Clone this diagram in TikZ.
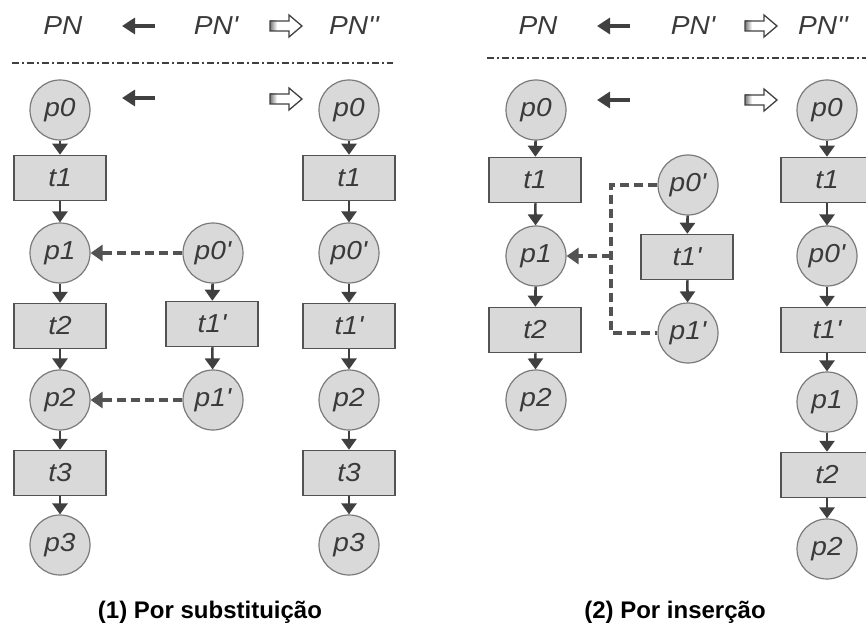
\documentclass[tikz,border=0pt]{standalone}
\usepackage{fontspec}
\newfontfamily\lab{Liberation Sans}[FakeStretch=1.08]
\newfontfamily\capf{Liberation Sans}[FakeStretch=1.0]
\usetikzlibrary{arrows.meta,calc}
\definecolor{fillg}{HTML}{D9D9D9}
\definecolor{edgeg}{HTML}{7A7A7A}
\definecolor{darkg}{HTML}{404040}
\definecolor{txtg}{HTML}{3A3A3A}
\tikzset{
 place/.style={circle, draw=edgeg, fill=fillg, line width=1.2pt, minimum size=60pt, inner sep=0pt,
   font=\lab\itshape\fontsize{26}{26}\selectfont, text=txtg},
 trans/.style={rectangle, draw=darkg!90, fill=fillg, line width=1.5pt, minimum width=92pt,
   minimum height=45pt, inner sep=0pt, font=\lab\itshape\fontsize{26}{26}\selectfont, text=txtg},
 flow/.style={draw=darkg, line width=2.6pt, -{Triangle[length=11pt,width=15pt]}},
 dflow/.style={draw=darkg!90, line width=3.2pt, dash pattern=on 9pt off 5pt},
 dtip/.style={-{Triangle[length=12pt,width=16pt]}},
 hdr/.style={font=\lab\itshape\fontsize{26}{26}\selectfont, text=txtg},
 sepline/.style={draw=darkg, line width=2.2pt, dash pattern=on 7pt off 3pt on 2pt off 3pt},
 fullarrow/.style={draw=darkg, line width=4.5pt, -{Triangle[length=13pt,width=16pt]}},
 captext/.style={font=\capf\bfseries\fontsize{24}{24}\selectfont, text=black},
 hollow/.pic={
   \shade[left color=darkg!70, right color=white] (0,-5) rectangle (7,5);
   \draw[darkg, line width=1.3pt, line join=miter]
     (0,-5) -- (19,-5) -- (19,-11) -- (32,0) -- (19,11) -- (19,5) -- (0,5) -- cycle;
 }
}
\begin{document}
\begin{tikzpicture}[x=1pt,y=-1pt]
\useasboundingbox (0,0) rectangle (866,628);

% ---------------- Panel 1: substitution ----------------
\node[hdr] (h1a) at (63,26) {PN};
\node[hdr] (h1b) at (216,26) {PN'};
\node[hdr] (h1c) at (354,26) {PN''};
\coordinate (a1s) at (155,26); \coordinate (a1e) at (122,26);
\draw[fullarrow] (a1s) -- (a1e);
\pic at (270,26) {hollow};
\coordinate (s1a) at (12,63); \coordinate (s1b) at (393,63);
\draw[sepline] (s1a) -- (s1b);
\coordinate (a2s) at (155,98); \coordinate (a2e) at (122,98);
\draw[fullarrow] (a2s) -- (a2e);
\pic at (270,99) {hollow};

% left column
\node[place] (Lp0) at (60,110) {p0};
\node[trans] (Lt1) at (60,178) {t1};
\node[place] (Lp1) at (60,253) {p1};
\node[trans] (Lt2) at (60,326) {t2};
\node[place] (Lp2) at (60,400) {p2};
\node[trans] (Lt3) at (60,473) {t3};
\node[place] (Lp3) at (60,545) {p3};
\foreach \a/\b in {Lp0/Lt1,Lt1/Lp1,Lp1/Lt2,Lt2/Lp2,Lp2/Lt3,Lt3/Lp3} \draw[flow] (\a) -- (\b);
% middle column
\node[place] (Mp0) at (213,253) {p0'};
\node[trans] (Mt1) at (212,324) {t1'};
\node[place] (Mp1) at (213,400) {p1'};
\draw[flow] (Mp0) -- (Mt1);
\draw[flow] (Mt1) -- (Mp1);
\draw[dflow] (Mp0) -- ($(Lp1.east)+(10,0)$);
\draw[dtip,draw=darkg!90,line width=3.2pt] ($(Lp1.east)+(12,0)$) coordinate (d1) -- (Lp1.east);
\draw[dflow] (Mp1) -- ($(Lp2.east)+(10,0)$);
\draw[dtip,draw=darkg!90,line width=3.2pt] ($(Lp2.east)+(12,0)$) coordinate (d2) -- (Lp2.east);
% right column
\node[place] (Rp0) at (349,110) {p0};
\node[trans] (Rt1) at (349,178) {t1};
\node[place] (Rp1) at (349,253) {p0'};
\node[trans] (Rt2) at (349,326) {t1'};
\node[place] (Rp2) at (349,400) {p2};
\node[trans] (Rt3) at (349,473) {t3};
\node[place] (Rp3) at (349,545) {p3};
\foreach \a/\b in {Rp0/Rt1,Rt1/Rp1,Rp1/Rt2,Rt2/Rp2,Rp2/Rt3,Rt3/Rp3} \draw[flow] (\a) -- (\b);
\node[captext] (c1) at (210,612) {(1) Por substituição};

% ---------------- Panel 2: insertion ----------------
\node[hdr] (h2a) at (538,26) {PN};
\node[hdr] (h2b) at (693,26) {PN'};
\node[hdr] (h2c) at (823,26) {PN''};
\coordinate (b1s) at (630,26); \coordinate (b1e) at (597,26);
\draw[fullarrow] (b1s) -- (b1e);
\pic at (745,26) {hollow};
\coordinate (s2a) at (487,58); \coordinate (s2b) at (870,58);
\draw[sepline] (s2a) -- (s2b);
\coordinate (b2s) at (630,100); \coordinate (b2e) at (597,100);
\draw[fullarrow] (b2s) -- (b2e);
\pic at (745,100) {hollow};

\node[place] (Sp0) at (536,110) {p0};
\node[trans] (St1) at (535,180) {t1};
\node[place] (Sp1) at (536,256) {p1};
\node[trans] (St2) at (535,330) {t2};
\node[place] (Sp2) at (536,400) {p2};
\foreach \a/\b in {Sp0/St1,St1/Sp1,Sp1/St2,St2/Sp2} \draw[flow] (\a) -- (\b);

\node[place] (Np0) at (688,185) {p0'};
\node[trans] (Nt1) at (687,257) {t1'};
\node[place] (Np1) at (688,333) {p1'};
\draw[flow] (Np0) -- (Nt1);
\draw[flow] (Nt1) -- (Np1);
\coordinate (jx) at (611,256);
\draw[dflow] (Np0.west) -| (jx) |- (Np1.west);
\draw[dflow] (jx) -- ($(Sp1.east)+(10,0)$);
\draw[dtip,draw=darkg!90,line width=3.2pt] ($(Sp1.east)+(12,0)$) coordinate (d3) -- (Sp1.east);

\node[place] (Qp0) at (827,110) {p0};
\node[trans] (Qt1) at (827,180) {t1};
\node[place] (Qp1) at (827,256) {p0'};
\node[trans] (Qt2) at (827,330) {t1'};
\node[place] (Qp2) at (827,402) {p1};
\node[trans] (Qt3) at (827,475) {t2};
\node[place] (Qp3) at (827,549) {p2};
\foreach \a/\b in {Qp0/Qt1,Qt1/Qp1,Qp1/Qt2,Qt2/Qp2,Qp2/Qt3,Qt3/Qp3} \draw[flow] (\a) -- (\b);
\node[captext] (c2) at (675,612) {(2) Por inserção};
\end{tikzpicture}
\end{document}
